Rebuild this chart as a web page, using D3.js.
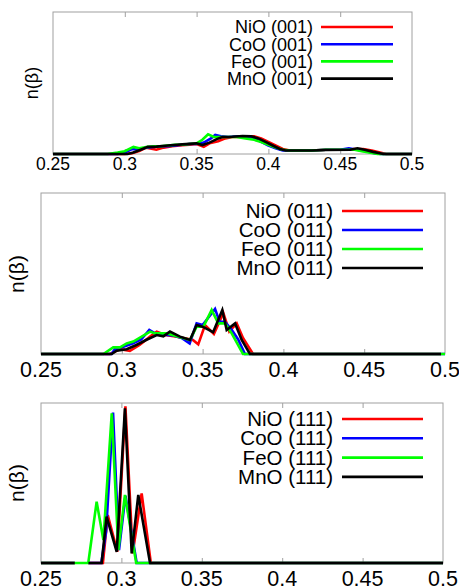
<!DOCTYPE html>
<html>
<head>
<meta charset="utf-8">
<script src="https://cdn.jsdelivr.net/npm/d3@7"></script>
<style>
  body { margin: 0; background: #fff; }
  svg { display: block; font-family: "Liberation Sans", Arial, sans-serif; }
</style>
</head>
<body>
<svg id="chart" width="459" height="586"></svg>
<script>
var materials = ["NiO", "CoO", "FeO", "MnO"];
var colors = ["#ff0000", "#0000ff", "#00ff00", "#000000"];
var facets = ["001", "011", "111"];
var xTicks = [0.25, 0.3, 0.35, 0.4, 0.45, 0.5];
var xTickLabels = ["0.25", "0.3", "0.35", "0.4", "0.45", "0.5"];

// [beta, n(beta)] ; n given as a fraction of the panel height
var nio001 = [[0.25,0],[0.30,0],[0.305,0.005],[0.31,0.02],[0.315,0.045],[0.322,0.03],[0.327,0.045],[0.333,0.055],[0.34,0.062],[0.345,0.065],[0.35,0.07],[0.355,0.05],[0.359,0.075],[0.365,0.09],[0.37,0.11],[0.375,0.12],[0.38,0.12],[0.385,0.125],[0.39,0.125],[0.395,0.11],[0.40,0.085],[0.405,0.06],[0.41,0.035],[0.415,0.025],[0.43,0.025],[0.44,0.03],[0.455,0.03],[0.46,0.035],[0.466,0.035],[0.472,0.025],[0.477,0.012],[0.482,0],[0.5,0]];
var coo001 = [[0.25,0],[0.295,0],[0.30,0.01],[0.305,0.035],[0.31,0.03],[0.315,0.045],[0.32,0.05],[0.325,0.055],[0.33,0.055],[0.335,0.06],[0.34,0.065],[0.345,0.07],[0.35,0.07],[0.355,0.08],[0.36,0.11],[0.363,0.134],[0.367,0.125],[0.372,0.12],[0.378,0.125],[0.385,0.125],[0.39,0.11],[0.395,0.085],[0.40,0.06],[0.405,0.04],[0.41,0.025],[0.415,0.025],[0.43,0.025],[0.44,0.03],[0.45,0.03],[0.456,0.04],[0.462,0.03],[0.468,0.02],[0.474,0.005],[0.478,0],[0.5,0]];
var feo001 = [[0.25,0],[0.288,0],[0.295,0.01],[0.30,0.02],[0.306,0.05],[0.31,0.04],[0.316,0.05],[0.32,0.055],[0.325,0.055],[0.33,0.06],[0.335,0.065],[0.34,0.065],[0.345,0.07],[0.35,0.075],[0.354,0.1],[0.358,0.138],[0.362,0.12],[0.366,0.12],[0.372,0.12],[0.378,0.12],[0.384,0.11],[0.39,0.1],[0.395,0.085],[0.40,0.065],[0.405,0.045],[0.41,0.03],[0.415,0.025],[0.43,0.025],[0.44,0.03],[0.455,0.03],[0.46,0.03],[0.465,0.02],[0.47,0.01],[0.476,0],[0.5,0]];
var mno001 = [[0.25,0],[0.302,0],[0.306,0.01],[0.311,0.03],[0.316,0.05],[0.322,0.052],[0.33,0.06],[0.34,0.068],[0.35,0.075],[0.354,0.063],[0.359,0.08],[0.364,0.105],[0.368,0.12],[0.375,0.122],[0.382,0.127],[0.388,0.125],[0.393,0.11],[0.398,0.085],[0.403,0.06],[0.408,0.035],[0.412,0.025],[0.43,0.025],[0.44,0.028],[0.457,0.03],[0.462,0.04],[0.467,0.03],[0.473,0.015],[0.48,0],[0.5,0]];

var nio011 = [[0.25,0],[0.2927,0],[0.299,0.03],[0.305,0.02],[0.311,0.056],[0.3175,0.108],[0.3216,0.139],[0.327,0.118],[0.334,0.108],[0.344,0.087],[0.3473,0.06],[0.3515,0.18],[0.357,0.125],[0.3628,0.255],[0.3665,0.14],[0.3711,0.19],[0.375,0.1],[0.3812,0],[0.4975,0]];
var coo011 = [[0.25,0],[0.2937,0],[0.2957,0.03],[0.301,0.045],[0.307,0.066],[0.312,0.09],[0.317,0.15],[0.3206,0.128],[0.326,0.12],[0.332,0.115],[0.337,0.1],[0.342,0.066],[0.3463,0.19],[0.35,0.18],[0.3577,0.28],[0.3605,0.2],[0.3638,0.2],[0.368,0.15],[0.372,0.09],[0.3762,0],[0.5,0]];
var feo011 = [[0.25,0],[0.2886,0],[0.2947,0.041],[0.2989,0.041],[0.303,0.066],[0.3071,0.077],[0.3123,0.108],[0.3175,0.139],[0.3206,0.128],[0.328,0.128],[0.334,0.11],[0.3422,0.087],[0.3463,0.17],[0.3505,0.17],[0.3556,0.273],[0.3597,0.19],[0.3639,0.19],[0.368,0.128],[0.3731,0.035],[0.375,0],[0.5,0]];
var mno011 = [[0.25,0],[0.2937,0],[0.2968,0.02],[0.303,0.03],[0.309,0.056],[0.315,0.087],[0.3216,0.118],[0.3257,0.11],[0.3298,0.139],[0.336,0.108],[0.3422,0.087],[0.3463,0.18],[0.35,0.17],[0.3565,0.135],[0.3622,0.273],[0.3649,0.149],[0.3701,0.19],[0.3742,0.087],[0.3793,0],[0.4975,0]];

var nio111 = [[0.25,0],[0.271,0],[0.275,null],[0.2795,0],[0.2885,0],[0.2915,0.30],[0.2975,0.07],[0.3025,0.98],[0.307,0.06],[0.3126,0.435],[0.3183,0],[0.5,0]];
var coo111 = [[0.25,0],[0.271,0],[0.275,null],[0.2795,0],[0.2875,0],[0.2905,0.2],[0.2948,0.94],[0.2985,0.08],[0.3025,0.42],[0.3095,0],[0.5,0]];
var feo111 = [[0.25,0],[0.2794,0],[0.2846,0.383],[0.2888,0.144],[0.294,0.935],[0.2981,0.081],[0.3022,0.425],[0.3092,0],[0.5,0]];
var mno111 = [[0.25,0],[0.271,0],[0.275,null],[0.2795,0],[0.2877,0],[0.2908,0.29],[0.2971,0.07],[0.3022,0.967],[0.3064,0.06],[0.3105,0.425],[0.3178,0],[0.5,0]];

var panels = [
  { series: [nio001, coo001, feo001, mno001], l: 53, r: 412, t: 12, b: 154,
    tickSize: 17.5, tickDy: 16, legSize: 18, legX: 313, legX1: 321, legX2: 393, legY: 27, legDy: 17.2,
    labSize: 18, labX: 38, labY: 83 },
  { series: [nio011, coo011, feo011, mno011], l: 41, r: 445, t: 193, b: 354,
    tickSize: 21.5, tickDy: 22.5, legSize: 20.5, legX: 333, legX1: 342, legX2: 423, legY: 211, legDy: 19,
    labSize: 21, labX: 24, labY: 274 },
  { series: [nio111, coo111, feo111, mno111], l: 41, r: 443, t: 403, b: 563,
    tickSize: 21.5, tickDy: 22.5, legSize: 20.5, legX: 333, legX1: 342, legX2: 423, legY: 419, legDy: 19.3,
    labSize: 21, labX: 24, labY: 483 }
];

var svg = d3.select("#chart");

panels.forEach(function (p, pi) {
  var x = d3.scaleLinear().domain([0.25, 0.5]).range([p.l, p.r]);
  var y = d3.scaleLinear().domain([0, 1]).range([p.b, p.t]);
  var g = svg.append("g");

  // frame
  g.append("rect")
    .attr("x", p.l).attr("y", p.t)
    .attr("width", p.r - p.l).attr("height", p.b - p.t)
    .style("fill", "none").style("stroke", "#a0a0a0").style("stroke-width", 1);

  // inward ticks, top and bottom
  var inner = xTicks.slice(1, -1);
  g.append("g").attr("transform", "translate(0," + p.b + ")")
    .call(d3.axisBottom(x).tickValues(inner).tickSize(-5).tickFormat(""))
    .call(function (a) { a.select(".domain").remove(); a.selectAll("line").style("stroke", "#a0a0a0"); });
  g.append("g").attr("transform", "translate(0," + p.t + ")")
    .call(d3.axisTop(x).tickValues(inner).tickSize(-5).tickFormat(""))
    .call(function (a) { a.select(".domain").remove(); a.selectAll("line").style("stroke", "#a0a0a0"); });

  // tick labels
  g.selectAll(".tl").data(xTicks).enter().append("text")
    .attr("x", function (d) { return x(d); })
    .attr("y", p.b + p.tickDy)
    .attr("text-anchor", "middle")
    .style("font-size", p.tickSize + "px")
    .text(function (d, i) { return xTickLabels[i]; });

  // y label
  g.append("text")
    .attr("transform", "translate(" + p.labX + "," + p.labY + ") rotate(-90)")
    .attr("text-anchor", "middle")
    .style("font-size", p.labSize + "px")
    .text("n(\u03b2)");

  var line = d3.line()
    .defined(function (d) { return d[1] != null; })
    .x(function (d) { return x(d[0]); })
    .y(function (d) { return y(d[1]); });

  p.series.forEach(function (s, si) {
    g.append("path").attr("d", line(s))
      .style("fill", "none").style("stroke", colors[si])
      .style("stroke-width", 2.6).style("stroke-linejoin", "miter");
  });

  // legend
  materials.forEach(function (m, si) {
    var ly = p.legY + si * p.legDy;
    g.append("text")
      .attr("x", p.legX).attr("y", ly + p.legSize * 0.35)
      .attr("text-anchor", "end")
      .style("font-size", p.legSize + "px")
      .text(m + " (" + facets[pi] + ")");
    g.append("line")
      .attr("x1", p.legX1).attr("x2", p.legX2).attr("y1", ly).attr("y2", ly)
      .style("stroke", colors[si]).style("stroke-width", 2.6);
  });
});
</script>
</body>
</html>
